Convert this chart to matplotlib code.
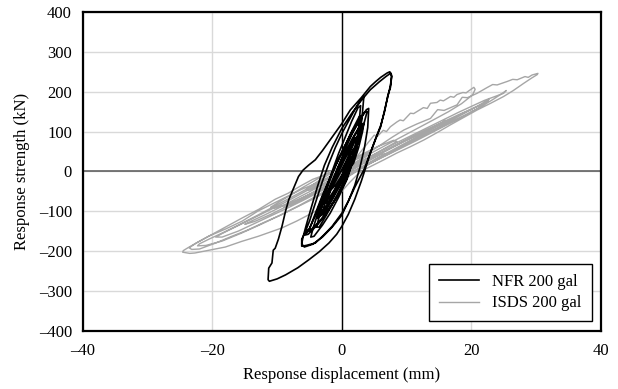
import matplotlib
matplotlib.use("Agg")
import matplotlib.pyplot as plt
from matplotlib.ticker import FuncFormatter

# NFR 200 gal (black) - response displacement (mm), response strength (kN)
nfr_x = [0, 0.8, 1.6, 2.2, 1.8, 0.8, -0.2, -1.2, -2.0, -2.4, -2.0, -1.0, 0,
         1.0, 2.0, 2.8, 3.2, 2.8, 1.6, 0.3, -1.0, -2.2, -3.3, -3.8, -3.3, -2.0, -0.8, 0.5,
         1.8, 2.8, 3.5, 3.9, 3.5, 2.4, 1.0, -0.4, -1.8, -3.0, -4.2, -5.2, -5.7, -5.2, -3.8, -2.5, -1.0, 0.5,
         2.0, 2.8, 3.2, 3.4, 3.0, 2.0, 1.0, 0, -1.0, -2.0, -3.0, -4.0, -5.0, -5.8, -6.2, -6.2, -5.5, -4.1, -2.8, -1.5, 0, 1.0, 2.0,
         3.4, 4.4, 5.2, 6.0, 6.7, 7.2, 7.5, 7.7, 7.6, 7.4,
         7.0, 6.0, 5.2, 4.4, 3.0, 1.3, 0, -1.8, -3.0, -4.1, -5.1, -6.0, -6.7, -7.4, -8.2, -8.7, -9.25, -9.8, -10.3, -10.6, -10.8, -11.3, -11.4, -11.2,
         -10.0, -8.7, -6.8, -5.1, -3.5, -2.0, -0.8, 0, 1.0, 2.0, 3.0, 3.7, 4.4, 5.3, 6.0, 6.6, 7.1, 7.5, 7.7, 7.5,
         6.8, 5.8, 4.4, 3.0, 1.5, 0, -1.5, -2.7, -3.8, -4.8, -5.5, -6.0, -6.2, -5.8, -4.5, -3.0, -1.5, 0,
         1.0, 2.0, 2.8, 3.5, 4.0, 4.15, 3.8, 2.8, 1.6, 0.5, -0.7, -1.8, -3.0, -4.2, -5.0, -5.7, -5.0, -3.6, -2.2, -0.8, 0.6,
         1.5, 2.3, 2.9, 3.1, 2.7, 1.5, 0.2, -1.2, -2.5, -3.6, -4.4, -4.8, -4.3, -3.0, -1.8, -0.5, 0.8,
         1.6, 2.2, 2.6, 2.9, 2.5, 1.5, 0.5, -0.5, -1.5, -2.5, -3.3, -3.9, -3.5, -2.4, -1.2, 0, 1.2,
         2.0, 2.6, 3.0, 2.6, 1.6, 0.5, -0.5, -1.5, -2.6, -3.2, -2.8, -1.6, -0.4, 0.8,
         1.8, 2.6, 3.2, 3.4, 3.0, 2.0, 0.8, -0.4, -1.5, -2.6, -3.4, -3.0, -1.8, -0.5, 0.8,
         1.8, 2.5, 2.8, 2.4, 1.4, 0.3, -0.8, -1.8, -2.4, -2.0, -0.9, 0.3, 1.3, 2.0, 2.3, 1.8, 0.8, -0.3, -1.2, -1.6, -1.0, 0, 0.9, 1.4, 1.0, 0.2]
nfr_y = [0, 30, 60, 85, 80, 50, 15, -25, -60, -80, -75, -45, -12,
         25, 62, 100, 120, 115, 82, 40, -5, -50, -95, -118, -112, -82, -48, -8,
         40, 85, 125, 150, 148, 118, 78, 35, -15, -65, -115, -150, -160, -158, -135, -108, -70, -25,
         40, 95, 150, 188, 182, 155, 125, 95, 60, 20, -25, -75, -125, -158, -170, -188, -186, -180, -160, -138, -105, -75, -40,
         4, 46, 80, 112, 160, 195, 215, 240, 246, 250,
         247, 236, 225, 213, 185, 154, 120, 79, 52, 29, 16, 3, -13, -40, -71, -100, -138, -170, -193, -198, -230, -243, -272, -276,
         -270, -260, -242, -222, -202, -180, -158, -138, -108, -70, -25, 10, 46, 86, 115, 150, 190, 210, 238, 246,
         238, 225, 205, 178, 145, 108, 60, 15, -40, -95, -135, -165, -182, -190, -183, -165, -140, -110,
         -75, -35, 10, 60, 110, 158, 155, 130, 100, 65, 25, -15, -60, -110, -145, -151, -150, -128, -100, -65, -25,
         15, 60, 110, 140, 138, 100, 55, 5, -50, -100, -140, -165, -163, -135, -105, -65, -20,
         20, 65, 110, 165, 160, 125, 85, 45, 0, -50, -100, -140, -140, -110, -75, -35, 10,
         55, 95, 130, 128, 95, 55, 15, -30, -80, -110, -108, -75, -38, 0,
         20, 60, 100, 120, 118, 90, 52, 12, -28, -70, -100, -100, -72, -38, 2,
         40, 72, 92, 88, 60, 25, -12, -48, -70, -68, -40, -8, 25, 50, 62, 55, 28, -5, -32, -45, -35, -10, 18, 35, 28, 5]

# ISDS 200 gal (gray)
isds_x = [0, 1.5, 3, 4.5, 4, 2, 0, -2, -4, -5.5, -5, -3, -1, 1, 3.5, 6, 8.5, 8, 5.5, 3, 0, -3, -6, -9, -11, -10.5, -8, -5, -2, 0,
          2, 3.2, 4.4, 5.0, 5.5, 6.4, 6.9, 7.5, 8.5, 9.0, 9.5, 10.6, 11.1, 11.6, 12.6, 13.2, 13.7, 14.7, 15.2, 15.7, 16.8, 17.3, 17.8, 18.7, 19.2, 19.6, 20.4, 20.6,
          20.2, 18.5, 16.5, 14, 11, 8, 5, 2, -1, -4, -7, -10, -13, -16, -18.5, -20.5, -22, -22.3,
          -21, -18.5, -15.5, -12.5, -9.5, -6.5, -3.5, -0.5, 2.5, 5.5, 8.5, 11.5, 14.5, 17.5, 20, 21.5, 22.7,
          22.4, 20.5, 18, 15.5, 12.5, 9.5, 6.5, 3.5, 0.5, -2.5, -6.2, -10.3, -13, -15.4, -18, -20.6, -22.5, -23.8, -24.5, -24.6,
          -23.5, -22.7, -20.5, -18, -15.5, -12.9, -11, -9.25, -7, -5.1, -3.5, -2, 0, 1.2, 2.35, 3.3, 4.4, 6.5, 8.5, 10.6, 12.7,
          14.8, 16.8, 18.8, 20.9, 23, 25, 26.5, 28.1, 29.3, 30.2, 30.3,
          29.4, 28.8, 28.3, 27.1, 26.4, 25.6, 24, 23.3, 22.4, 20.9, 19.4, 18.6, 17.8, 15.8, 14.8, 13.7, 11.6, 9.6, 7.8, 5.95, 4.6, 3.4, 1.5, -0.5, -2.5,
          -4.5, -6.2, -8.3, -10.3, -12.8, -15.4, -18, -20.6, -22.5, -23.6, -23.2,
          -22, -19.5, -17, -14.5, -12, -9.5, -7, -4.5, -2, 0.5, 2.5, 4.5, 7, 9.5, 12, 14.5, 17, 19.5, 21.5, 23.5, 24.8, 25.4,
          25, 23.5, 22, 20, 18, 16, 13.5, 11, 8.5, 6, 3.5, 1, -1.5, -4, -6.5, -9, -11.5, -14, -16.5, -18.5, -19.5,
          -18.5, -16, -13.5, -11, -8.5, -6, -3.5, -1, 1.5, 4, 6.5, 9, 11.5, 14, 16.5, 19, 21, 22.2, 22.7,
          22.3, 20.5, 18, 15.5, 13, 10.5, 8, 5.5, 3, 0.5, -2, -4.5, -7, -9.5, -12, -14, -15,
          -13.5, -11, -8.5, -6, -3.5, -1, 1.5, 4, 6.5, 9, 11.5, 14, 15.5, 16,
          15, 12.5, 10, 7.5, 5, 2.5, 0, -2.5, -5, -7.5, -9,
          -7.5, -5, -2.5, 0, 2.5, 5, 7, 6, 3.5, 1, -1.5, -3, -1.5, 0]
isds_y = [0, 15, 30, 45, 47, 32, 12, -8, -28, -45, -47, -32, -15, 5, 28, 52, 75, 78, 62, 42, 15, -12, -40, -70, -90, -93, -80, -58, -35, -15,
          30, 55, 79, 91, 88, 103, 100, 112, 124, 129, 127, 146, 145, 150, 160, 158, 171, 173, 179, 177, 188, 186, 193, 198, 197, 202, 211, 206,
          192, 170, 150, 128, 102, 76, 50, 22, -5, -32, -58, -84, -110, -135, -155, -170, -182, -187,
          -186, -175, -155, -133, -110, -85, -58, -28, 2, 30, 57, 83, 108, 133, 155, 169, 181,
          174, 160, 140, 120, 98, 75, 50, 25, 0, -20, -45, -78, -100, -125, -145, -163, -180, -192, -199, -203,
          -206, -205, -198, -190, -176, -163, -152, -142, -125, -109, -95, -80, -50, -28, -9, 3, 12, 29, 46, 62, 79,
          98, 117, 135, 154, 171, 188, 203, 221, 234, 243, 246,
          242, 236, 238, 230, 231, 226, 217, 218, 210, 196, 185, 186, 167, 153, 155, 133, 119, 104, 86, 66, 52, 38, 25, 10, -8,
          -20, -35, -55, -70, -95, -117, -140, -163, -180, -192, -196,
          -195, -180, -163, -147, -128, -110, -90, -70, -48, -18, 5, 22, 42, 63, 84, 105, 125, 145, 162, 182, 196, 203,
          196, 187, 178, 163, 148, 132, 112, 92, 72, 51, 30, 8, -14, -36, -58, -80, -100, -120, -140, -156, -165,
          -165, -150, -131, -112, -93, -73, -52, -30, -5, 17, 37, 57, 77, 98, 119, 140, 158, 172, 180,
          172, 160, 142, 123, 104, 84, 63, 42, 20, -2, -25, -47, -68, -90, -110, -125, -133,
          -126, -108, -88, -68, -47, -25, -2, 20, 42, 64, 86, 108, 122, 128,
          118, 98, 78, 57, 35, 12, -12, -35, -57, -78, -90,
          -82, -62, -42, -20, 5, 28, 45, 42, 22, 0, -22, -35, -25, -10]

x_ticks = [-40, -20, 0, 20, 40]
y_ticks = [-400, -300, -200, -100, 0, 100, 200, 300, 400]

plt.rcParams['font.family'] = ['Liberation Serif', 'DejaVu Serif']
plt.rcParams['font.size'] = 12

fig = plt.figure(figsize=(6.18, 3.89), dpi=100)
ax = fig.add_axes([0.1343, 0.150, 0.8377, 0.819])
ax.set_axisbelow(True)

ax.grid(True, color='#d9d9d9', linewidth=1.0)
ax.axhline(0, color='#555555', linewidth=1.1, zorder=1.5)
ax.axvline(0, color='black', linewidth=1.0, zorder=1.5)

ax.plot(isds_x, isds_y, color='#a6a6a6', linewidth=1.0, label='ISDS 200 gal', zorder=2)
ax.plot(nfr_x, nfr_y, color='black', linewidth=1.2, label='NFR 200 gal', zorder=3)

ax.set_xlim(-40, 40)
ax.set_ylim(-400, 400)
ax.set_xticks(x_ticks)
ax.set_yticks(y_ticks)

dash = FuncFormatter(lambda v, p: ('%d' % v).replace('-', '\u2013'))
ax.xaxis.set_major_formatter(dash)
ax.yaxis.set_major_formatter(dash)
ax.tick_params(axis='both', length=0, labelsize=12)
ax.tick_params(axis='x', pad=9)
ax.tick_params(axis='y', pad=8)

for s in ax.spines.values():
    s.set_linewidth(1.6)
    s.set_color('black')

ax.set_xlabel('Response displacement (mm)', fontsize=12, labelpad=6)
ax.set_ylabel('Response strength (kN)', fontsize=12, labelpad=6)

h, l = ax.get_legend_handles_labels()
leg = ax.legend(h[::-1], l[::-1], loc='lower right', fancybox=False, framealpha=1,
                edgecolor='black', fontsize=12, handlelength=2.4,
                borderaxespad=0.55, borderpad=0.6, labelspacing=0.35)
leg.get_frame().set_linewidth(1.0)

fig.savefig('out.png', dpi=100)
